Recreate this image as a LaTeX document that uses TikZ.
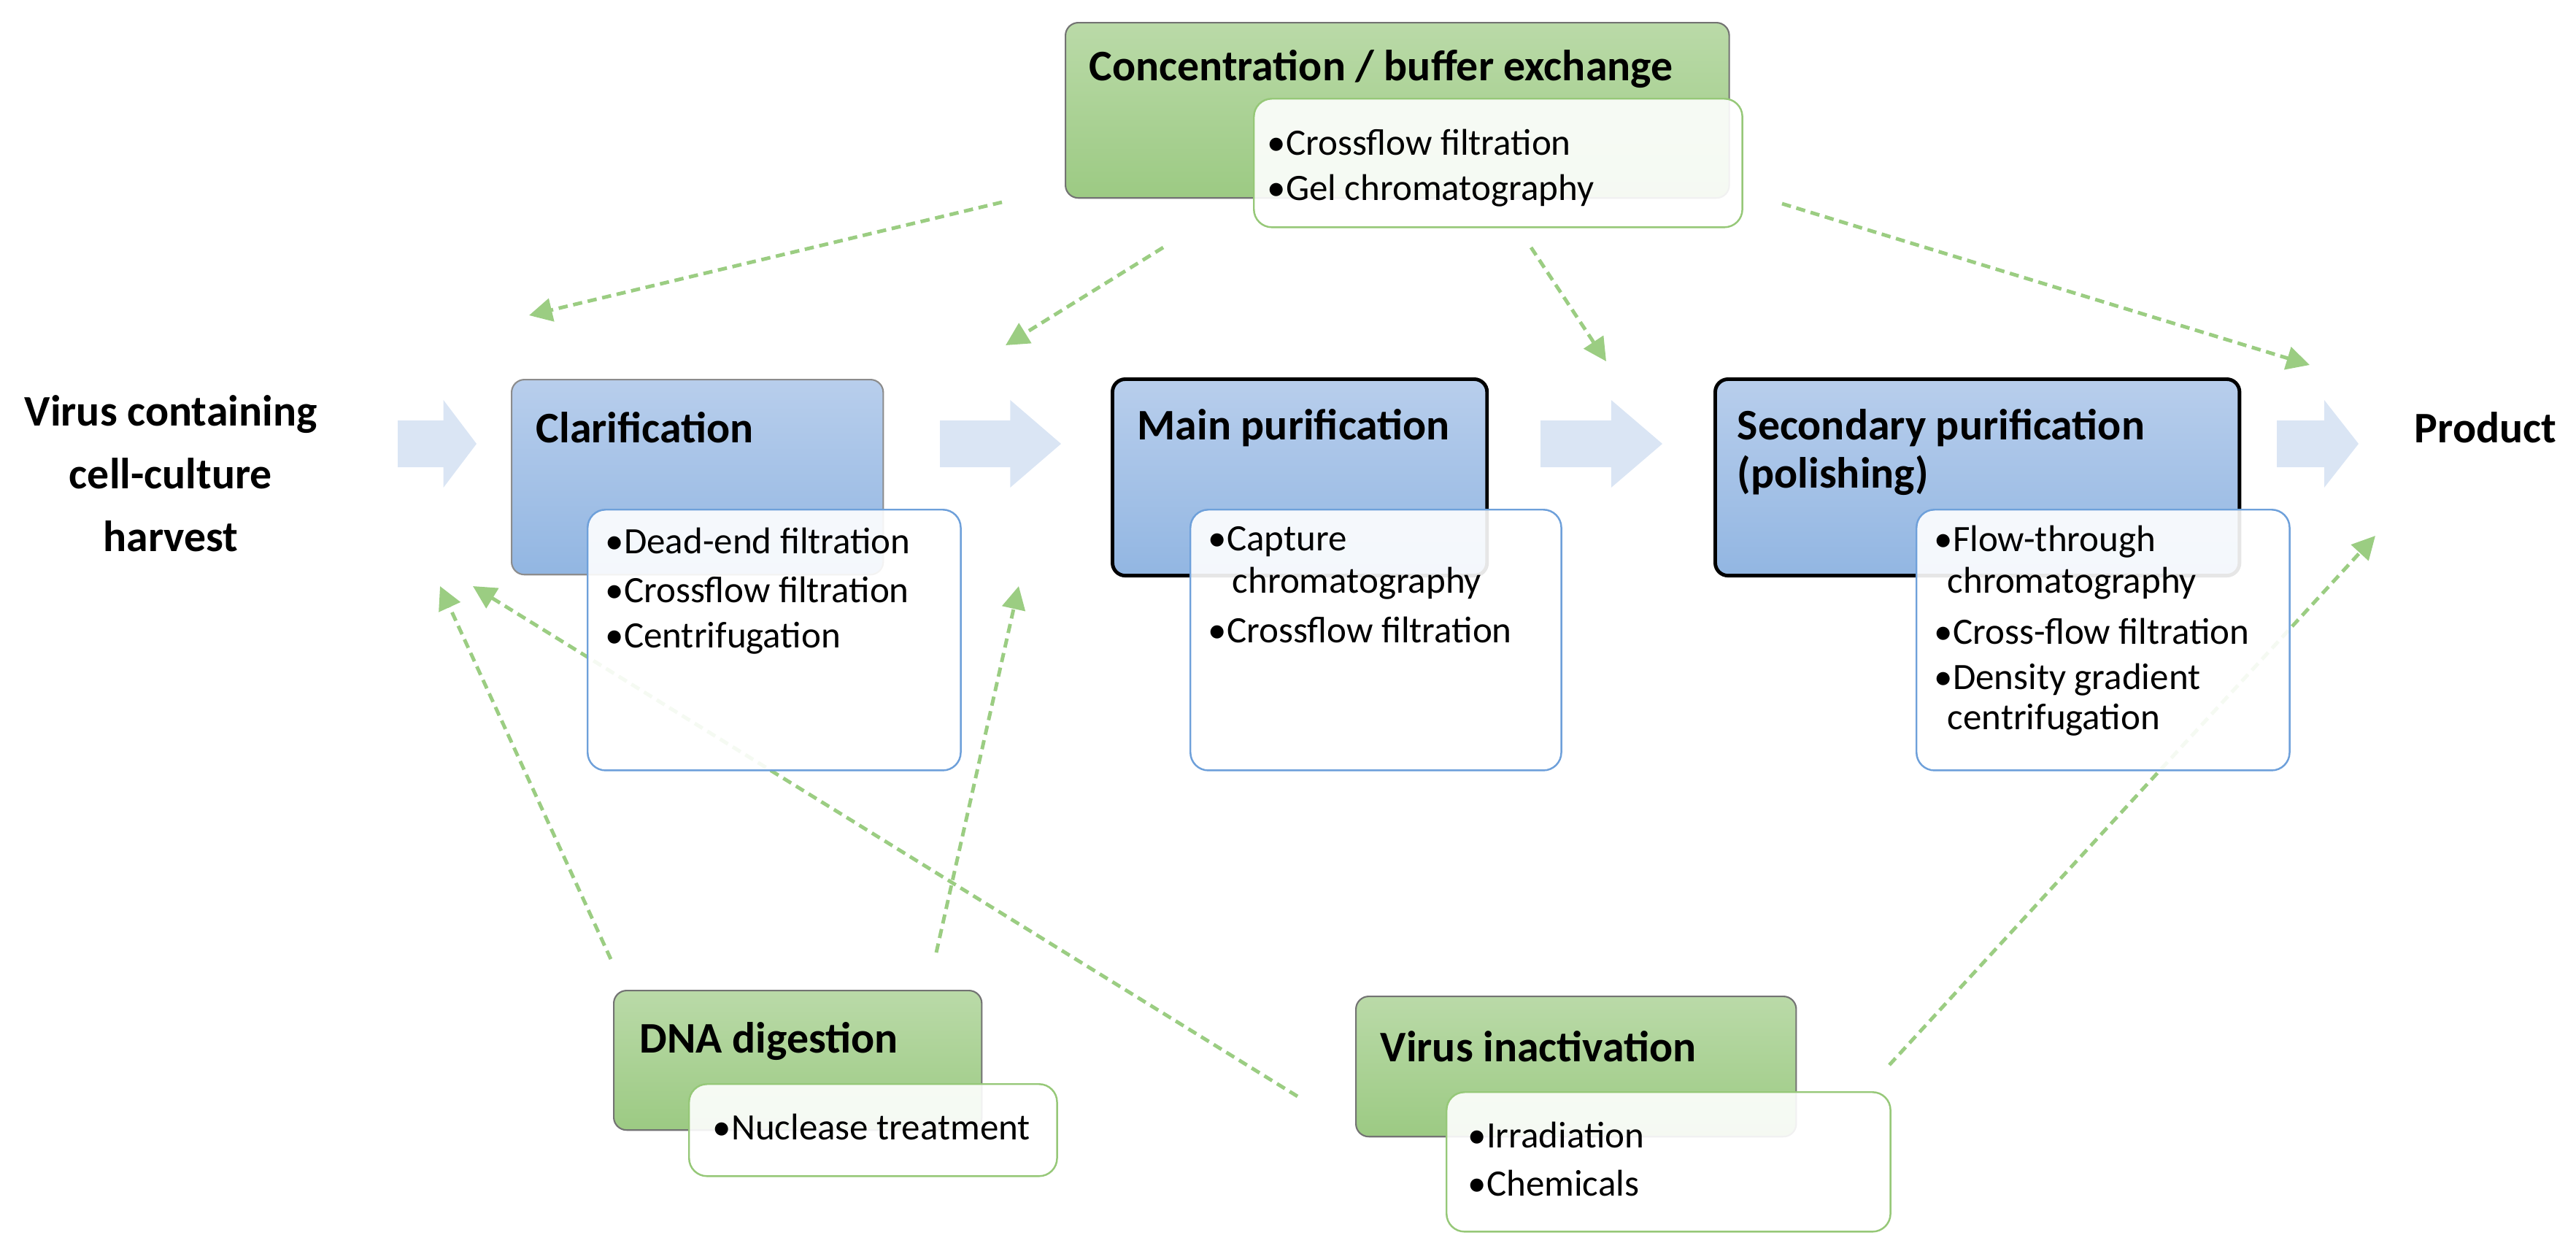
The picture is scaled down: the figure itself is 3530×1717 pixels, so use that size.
\documentclass[tikz,border=0pt]{standalone}
\usepackage{fontspec}
\setmainfont{Carlito}
\usetikzlibrary{arrows.meta}
\definecolor{gA}{RGB}{186,218,168}
\definecolor{gB}{RGB}{156,202,131}
\definecolor{bA}{RGB}{184,206,236}
\definecolor{bB}{RGB}{146,182,226}
\definecolor{dash}{RGB}{155,205,130}
\definecolor{wbl}{RGB}{110,160,218}
\definecolor{wgr}{RGB}{150,200,120}
\definecolor{chev}{RGB}{218,229,244}
\tikzset{
 px/.style={x=0.01cm,y=-0.01cm},
 gbox/.style={draw=black!55,line width=0.6pt,top color=gA,bottom color=gB,rounded corners=5pt,inner sep=0,anchor=north west},
 bbox/.style={draw=black!45,line width=0.6pt,top color=bA,bottom color=bB,rounded corners=5pt,inner sep=0,anchor=north west},
 mbox/.style={bbox,draw=black,line width=1.4pt},
 wbox/.style={draw=wbl,line width=0.7pt,fill=white,fill opacity=0.9,rounded corners=7pt,inner sep=0,anchor=north west},
 wgbox/.style={wbox,draw=wgr},
 title/.style={font=\fontsize{17}{20}\selectfont\bfseries,anchor=west,inner sep=0},
 item/.style={font=\fontsize{14.5}{17}\selectfont,anchor=west,inner sep=0},
 lab/.style={font=\fontsize{17}{20}\selectfont\bfseries,inner sep=0},
 dsh/.style={draw=dash,line width=1.4pt,dash pattern=on 3.6pt off 2.2pt,-{Triangle[length=9pt,width=9pt]}},
 chv/.style={fill=chev}
}
\begin{document}
\begin{tikzpicture}[px]
\useasboundingbox (0,0) rectangle (3530,1717);
% connector endpoints
\coordinate (c1s) at (1373,277); \coordinate (c1e) at (725,432);
\coordinate (c2s) at (1594,339); \coordinate (c2e) at (1378,473);
\coordinate (c3s) at (2098,339); \coordinate (c3e) at (2201,495);
\coordinate (c4s) at (2442,279); \coordinate (c4e) at (3165,500);
\coordinate (c5s) at (837,1314); \coordinate (c5e) at (603,803);
\coordinate (c6s) at (1283,1305); \coordinate (c6e) at (1396,803);
\coordinate (c7s) at (1778,1502); \coordinate (c7e) at (648,803);
\coordinate (c8s) at (2589,1459); \coordinate (c8e) at (3255,734);
\foreach \i in {1,...,8} \draw[dsh] (c\i s) -- (c\i e);
% chevrons
\foreach \a/\b in {545/653,1288/1454,2111/2278,3120/3232}{
 \pgfmathsetmacro{\m}{\b-(\b-\a)*0.42}
 \fill[chv] (\a,576) -- (\m,576) -- (\m,548) -- (\b,608) -- (\m,668) -- (\m,640) -- (\a,640) -- cycle;}
% side labels
\node[lab,align=center,font=\fontsize{17}{24.5}\selectfont\bfseries] (src) at (234,649) {Virus containing\\cell-culture\\harvest};
\node[lab] (prod) at (3406,586) {Product};
% top green
\node[gbox,minimum width=9.09cm,minimum height=2.40cm] (conc) at (1459,30) {};
\node[wgbox,minimum width=6.69cm,minimum height=1.76cm] (concw) at (1717,134) {};
\node[title] (conct) at (1492,95) {Concentration / buffer exchange};
\node[item] (conc1) at (1736,195) {•Crossflow filtration};
\node[item] (conc2) at (1736,261) {•Gel chromatography};
% clarification
\node[bbox,minimum width=5.09cm,minimum height=2.67cm] (clar) at (700,519) {};
\node[wbox,minimum width=5.11cm,minimum height=3.57cm] (clarw) at (804,697) {};
\node[title] (clart) at (734,586) {Clarification};
\node[item] (clar1) at (829,741) {•Dead-end filtration};
\node[item] (clar2) at (829,808) {•Crossflow filtration};
\node[item] (clar3) at (829,874) {•Centrifugation};
% main purification
\node[mbox,minimum width=5.13cm,minimum height=2.69cm] (main) at (1522,517) {};
\node[wbox,minimum width=5.08cm,minimum height=3.57cm] (mainw) at (1630,697) {};
\node[title] (maint) at (1558,586) {Main purification};
\node[item] (main1) at (1655,742) {•Capture};
\node[item] (main2) at (1688,799) {chromatography};
\node[item] (main3) at (1655,863) {•Crossflow filtration};
% secondary
\node[mbox,minimum width=7.18cm,minimum height=2.69cm] (sec) at (2348,517) {};
\node[wbox,minimum width=5.11cm,minimum height=3.57cm] (secw) at (2625,697) {};
\node[title] (sect1) at (2380,586) {Secondary purification};
\node[title] (sect2) at (2380,651) {(polishing)};
\node[item] (sec1) at (2650,742) {•Flow-through};
\node[item] (sec2) at (2668,799) {chromatography};
\node[item] (sec3) at (2650,865) {•Cross-flow filtration};
\node[item] (sec4) at (2650,931) {•Density gradient};
\node[item] (sec5) at (2668,986) {centrifugation};
% DNA digestion
\node[gbox,minimum width=5.04cm,minimum height=1.91cm] (dna) at (840,1356) {};
\node[wgbox,minimum width=5.04cm,minimum height=1.26cm] (dnaw) at (943,1484) {};
\node[title] (dnat) at (876,1427) {DNA digestion};
\node[item] (dna1) at (976,1544) {•Nuclease treatment};
% virus inactivation
\node[gbox,minimum width=6.03cm,minimum height=1.92cm] (vin) at (1857,1364) {};
\node[wgbox,minimum width=6.08cm,minimum height=1.91cm] (vinw) at (1981,1495) {};
\node[title] (vint) at (1891,1434) {Virus inactivation};
\node[item] (vin1) at (2011,1555) {•Irradiation};
\node[item] (vin2) at (2011,1621) {•Chemicals};
\end{tikzpicture}
\end{document}
